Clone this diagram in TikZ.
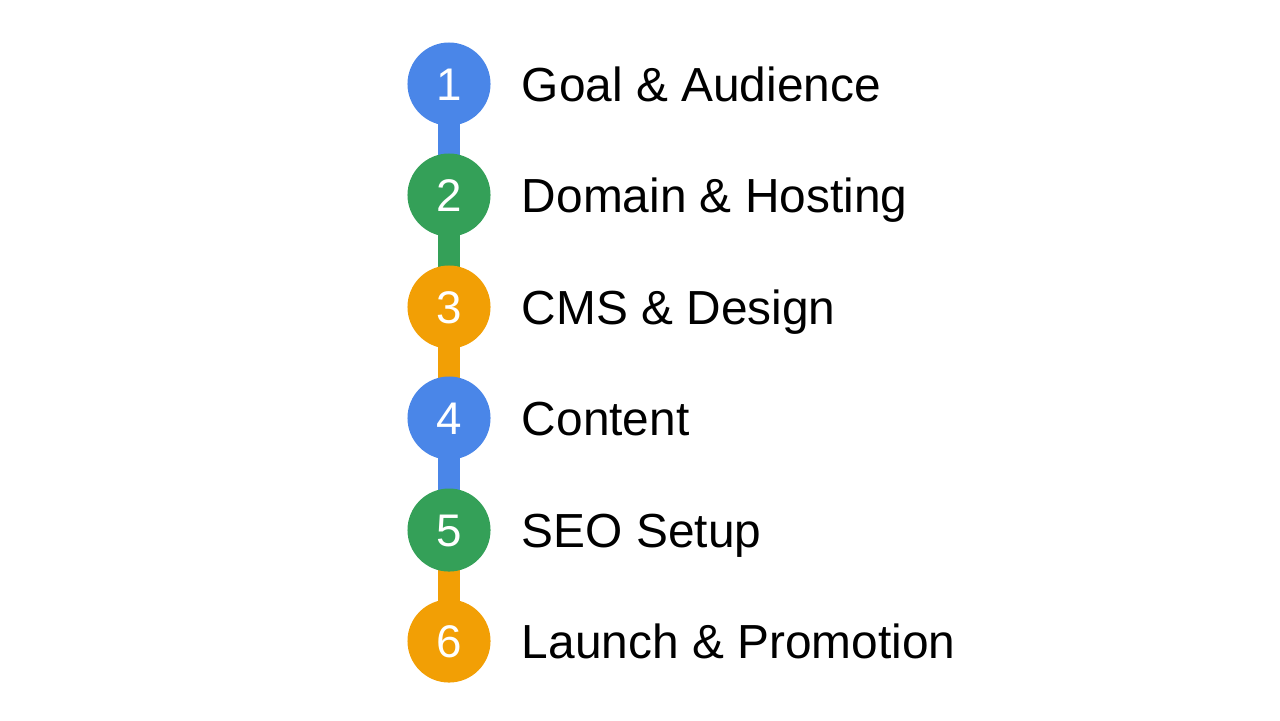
\documentclass[tikz,border=0pt]{standalone}
\usepackage{fontspec}
\setmainfont{Liberation Sans}
\usetikzlibrary{positioning,backgrounds}
\definecolor{gblue}{HTML}{4A86E8}
\definecolor{ggreen}{HTML}{34A058}
\definecolor{gorange}{HTML}{F29F05}

\begin{document}
\begin{tikzpicture}[x=0.01cm,y=-0.01cm,
	dot/.style={circle,minimum size=0.83cm,inner sep=0,text=white,
		font=\fontsize{13}{15}\selectfont,text height=9.3pt,text depth=0pt},
	title/.style={right=0.3cm of #1,inner sep=0,
		font=\fontsize{13.6}{16}\selectfont,text height=9.7pt,text depth=0pt},
	bar/.style={line width=0.22cm}]
		\useasboundingbox (0,0) rectangle (1280,720);

		\draw (449,84) node [dot,fill=gblue] (s1) {1};
		\draw (449,195) node [dot,fill=ggreen] (s2) {2};
		\draw (449,307) node [dot,fill=gorange] (s3) {3};
		\draw (449,418) node [dot,fill=gblue] (s4) {4};
		\draw (449,530) node [dot,fill=ggreen] (s5) {5};
		\draw (449,641) node [dot,fill=gorange] (s6) {6};

		\node [title=s1] (t1) {Goal \& Audience};
		\node [title=s2] (t2) {Domain \& Hosting};
		\node [title=s3] (t3) {CMS \& Design};
		\node [title=s4] (t4) {Content};
		\node [title=s5] (t5) {SEO Setup};
		\node [title=s6] (t6) {Launch \& Promotion};

		\begin{scope}[on background layer]
		\draw[bar]
			(s1.center) edge [gblue] (s2.center)
			(s2.center) edge [ggreen] (s3.center)
			(s3.center) edge [gorange] (s4.center)
			(s4.center) edge [gblue] (s5.center)
			(s5.center) edge [gorange] (s6.center)
		;
		\end{scope}
	\end{tikzpicture}
\end{document}
